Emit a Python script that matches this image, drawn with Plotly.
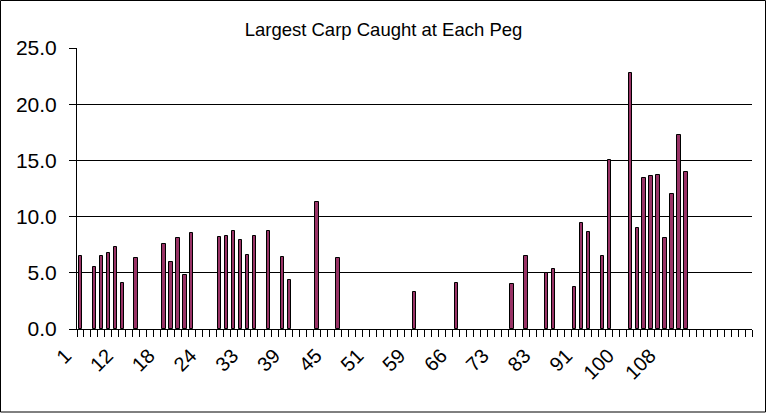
import plotly.graph_objects as go

# Peg numbers (category labels); trailing blanks are empty categories
pegs = ["1", "2", "4", "6", "8", "10", "12",
        "13", "14", "15", "16", "17", "18",
        "19", "20", "21", "22", "23", "24",
        "26", "27", "29", "30", "32", "33",
        "34", "35", "36", "37", "38", "39",
        "40", "41", "42", "43", "44", "45",
        "46", "47", "48", "49", "50", "51",
        "52", "54", "55", "56", "58", "59",
        "60", "61", "63", "64", "65", "66",
        "67", "68", "70", "71", "72", "73",
        "75", "76", "78", "80", "81", "83",
        "84", "86", "87", "88", "90", "91",
        "93", "94", "96", "97", "99", "100",
        "101", "103", "104", "105", "107", "108",
        "109", "110", "111",
        "", "", "", "", "", "", "", "", ""]

# Largest carp weight at each peg (None = nothing caught)
weights = [6.5, None, 5.5, 6.5, 6.8, 7.3, 4.1, None, 6.3, None, None, None,
           7.6, 6.0, 8.1, 4.8, 8.5, None, None, None, 8.2, 8.3, 8.7, 7.9,
           6.6, 8.3, None, 8.7, None, 6.4, 4.4, None, None, None, 11.3, None,
           None, 6.3, None, None, None, None, None, None, None, None, None, None,
           3.3, None, None, None, None, None, 4.1, None, None, None, None, None,
           None, None, 4.0, None, 6.5, None, None, 5.0, 5.3, None, None, 3.7,
           9.4, 8.6, None, 6.5, 15.0, None, None, 22.8, 9.0, 13.4, 13.6, 13.7,
           8.1, 12.0, 17.3, 14.0, None, None, None, None, None, None, None, None, None]

y_ticks = [0, 5, 10, 15, 20, 25]
title = "Largest Carp Caught at Each Peg"

idx = list(range(len(pegs)))
label_pos = [i for i in range(0, len(pegs), 6) if pegs[i]]
label_txt = [pegs[i] for i in label_pos]

FONT = "Liberation Sans, Arial, sans-serif"

fig = go.Figure(go.Bar(
    x=idx, y=weights, width=0.48,
    marker=dict(color="#993366", line=dict(color="black", width=1)),
    hovertext=pegs,
))

fig.update_layout(
    width=767, height=413,
    margin=dict(l=77, r=15, t=48, b=84),
    paper_bgcolor="white", plot_bgcolor="white",
    showlegend=False,
    bargap=0,
    title=dict(text=title, x=0.5, xanchor="center", xref="container",
               y=1 - 30 / 413, yanchor="middle", yref="container",
               font=dict(family=FONT, size=18.5, color="black")),
    font=dict(family=FONT, color="black"),
    shapes=[dict(type="rect", xref="paper", yref="paper",
                 x0=(0.5 - 77) / 675, x1=(765.5 - 77) / 675,
                 y0=(329 - 412) / 281, y1=(329 - 0.5) / 281,
                 line=dict(color="black", width=1), fillcolor="rgba(0,0,0,0)",
                 layer="below")],
)

fig.update_xaxes(
    range=[-0.5, len(pegs) - 0.5],
    tickmode="array", tickvals=label_pos, ticktext=label_txt,
    ticks="", tickangle=-45,
    ticklabelshift=-15, ticklabelstandoff=6,
    tickfont=dict(family=FONT, size=20, color="black"),
    showline=True, linecolor="black", linewidth=1,
    showgrid=False, zeroline=False,
    minor=dict(tickmode="array", tickvals=[i - 0.5 for i in range(len(pegs) + 1)],
               ticks="outside", ticklen=7, tickcolor="black", tickwidth=1,
               showgrid=False),
)

fig.update_yaxes(
    range=[0, 25], tickmode="array", tickvals=y_ticks, tickformat=".1f",
    ticks="outside", ticklen=7, tickcolor="black", tickwidth=1,
    ticklabelstandoff=8,
    tickfont=dict(family=FONT, size=21, color="black"),
    showline=True, linecolor="black", linewidth=1,
    showgrid=True, gridcolor="black", gridwidth=1,
    zeroline=False,
)

fig.write_html("out.html")
